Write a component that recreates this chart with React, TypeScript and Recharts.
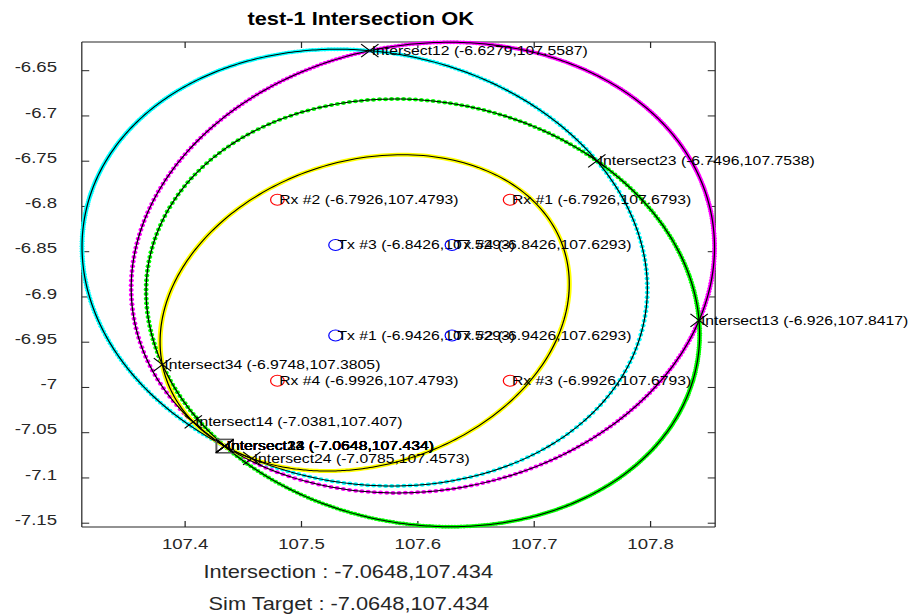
import React from 'react';
import { ScatterChart, Scatter, XAxis, YAxis } from 'recharts';

// ---------- data (lat = y, lon = x) ----------
const rxNames = ['Rx #1', 'Rx #2', 'Rx #3', 'Rx #4'];
const rxLat = [-6.7926, -6.7926, -6.9926, -6.9926];
const rxLon = [107.6793, 107.4793, 107.6793, 107.4793];

const txNames = ['Tx #1', 'Tx #2', 'Tx #3', 'Tx #4'];
const txLat = [-6.9426, -6.9426, -6.8426, -6.8426];
const txLon = [107.5293, 107.6293, 107.5293, 107.6293];

const targetLat = -7.0648;
const targetLon = 107.434;

const intersectNames = [
  'Intersect12', 'Intersect23', 'Intersect13', 'Intersect34', 'Intersect14', 'Intersect24',
  'Intersect12', 'Intersect13', 'Intersect14', 'Intersect23', 'Intersect24', 'Intersect34',
];
const intersectLat = [-6.6279, -6.7496, -6.926, -6.9748, -7.0381, -7.0785, -7.0648, -7.0648, -7.0648, -7.0648, -7.0648, -7.0648];
const intersectLon = [107.5587, 107.7538, 107.8417, 107.3805, 107.407, 107.4573, 107.434, 107.434, 107.434, 107.434, 107.434, 107.434];

const ellipseColors = ['#FF00FF', '#00FFFF', '#00FF00', '#FFFF00'];
const ellipseDotted = [true, true, true, false];

const xTicks = [107.4, 107.5, 107.6, 107.7, 107.8];
const yTicks = [-7.15, -7.1, -7.05, -7, -6.95, -6.9, -6.85, -6.8, -6.75, -6.7, -6.65];
const xDomain = [107.3112, 107.8555];
const yDomain = [-7.1542, -6.6183];

const titleText = 'test-1 Intersection OK';
const resultText = 'Intersection : -7.0648,107.434';
const simText = 'Sim Target : -7.0648,107.434';

// longitude is scaled by cos(latitude) when ranges are measured
const lonScale = 0.9927;
const samplesPerEllipse = 420;

// ---------- geometry: ellipse with foci Tx_i / Rx_i passing through the target ----------
type Pt = { x: number; y: number; label?: string };

function ellipsePoints(i: number): Pt[] {
  const fx = rxLon[i] * lonScale, fy = rxLat[i];
  const gx = txLon[i] * lonScale, gy = txLat[i];
  const tx = targetLon * lonScale, ty = targetLat;
  const sum = Math.hypot(tx - fx, ty - fy) + Math.hypot(tx - gx, ty - gy);
  const a = sum / 2;
  const c = Math.hypot(gx - fx, gy - fy) / 2;
  const e = c / a;
  const p = a * (1 - e * e);
  const phi = Math.atan2(gy - fy, gx - fx);
  const pts: Pt[] = [];
  for (let k = 0; k <= samplesPerEllipse; k++) {
    const th = (2 * Math.PI * k) / samplesPerEllipse;
    const r = p / (1 - e * Math.cos(th - phi));
    pts.push({ x: (fx + r * Math.cos(th)) / lonScale, y: fy + r * Math.sin(th) });
  }
  return pts;
}

const ellipses = [0, 1, 2, 3].map((i) => ellipsePoints(i));

const rxData: Pt[] = rxNames.map((n, i) => ({ x: rxLon[i], y: rxLat[i], label: `${n} (${rxLat[i]},${rxLon[i]})` }));
const txData: Pt[] = txNames.map((n, i) => ({ x: txLon[i], y: txLat[i], label: `${n} (${txLat[i]},${txLon[i]})` }));
const intersectData: Pt[] = intersectNames.map((n, i) => ({
  x: intersectLon[i], y: intersectLat[i], label: `${n} (${intersectLat[i]},${intersectLon[i]})`,
}));
const targetData: Pt[] = [{ x: targetLon, y: targetLat }];

// ---------- styling ----------
const FONT = '"Liberation Sans", Arial, Helvetica, sans-serif';
const AXIS_COLOR = '#262626';
const W = 735;
const H = 615;
const STRETCH = 911 / W;
const LABEL_SIZE = 12.7;

const XTick = (props: any) => (
  <text x={props.x} y={props.y} textAnchor="middle" fontSize={15} fontFamily={FONT} fill={AXIS_COLOR}>
    {String(props.payload.value)}
  </text>
);
const YTick = (props: any) => (
  <text x={props.x} y={props.y + 1.7} textAnchor="end" fontSize={15} fontFamily={FONT} fill={AXIS_COLOR}>
    {String(props.payload.value)}
  </text>
);
const NoTick = () => <g />;
const Empty = () => <g />;

const makeDot = (color: string) => (p: any) => <circle cx={p.cx} cy={p.cy} r={2} fill={color} />;

const makeCircleMarker = (color: string) => (p: any) => (
  <g>
    <circle cx={p.cx} cy={p.cy} r={5.5} fill="none" stroke={color} strokeWidth={1} />
    <text x={p.cx + 1.5} y={p.cy + 4.4} fontSize={LABEL_SIZE} fontFamily={FONT} fill="#000">
      {p.payload.label}
    </text>
  </g>
);

const CrossMarker = (p: any) => (
  <g>
    <path
      d={`M${p.cx - 7},${p.cy - 6.5}L${p.cx + 7},${p.cy + 6.5}M${p.cx - 7},${p.cy + 6.5}L${p.cx + 7},${p.cy - 6.5}`}
      stroke="#000"
      strokeWidth={1}
      fill="none"
    />
    <text x={p.cx + 1.5} y={p.cy + 4.4} fontSize={LABEL_SIZE} fontFamily={FONT} fill="#000">
      {p.payload.label}
    </text>
  </g>
);

const SquareMarker = (p: any) => (
  <rect x={p.cx - 6.7} y={p.cy - 6.7} width={13.4} height={13.4} fill="none" stroke="#5a5a5a" strokeWidth={1.6} />
);

export default function App() {
  return (
    <div
      style={{
        position: 'absolute',
        left: 0,
        top: 0,
        width: W,
        height: H,
        transform: `scaleX(${STRETCH})`,
        transformOrigin: '0 0',
        background: '#fff',
      }}
    >
      <div style={{ position: 'relative', width: W, height: H }}>
        <ScatterChart width={W} height={H} margin={{ top: 41, right: 157, bottom: 0, left: 0 }}>
          <XAxis
            xAxisId={0}
            dataKey="x"
            type="number"
            domain={xDomain}
            ticks={xTicks}
            interval={0}
            height={88}
            stroke={AXIS_COLOR}
            tickSize={-6}
            tickMargin={28}
            tick={XTick}
          />
          <XAxis
            xAxisId="top"
            orientation="top"
            dataKey="x"
            type="number"
            domain={xDomain}
            ticks={xTicks}
            interval={0}
            height={1}
            stroke={AXIS_COLOR}
            tickSize={-6}
            tick={NoTick}
          />
          <YAxis
            yAxisId={0}
            dataKey="y"
            type="number"
            domain={yDomain}
            ticks={yTicks}
            interval={0}
            width={66}
            stroke={AXIS_COLOR}
            tickSize={-6}
            tickMargin={26}
            tick={YTick}
          />
          <YAxis
            yAxisId="right"
            orientation="right"
            dataKey="y"
            type="number"
            domain={yDomain}
            ticks={yTicks}
            interval={0}
            width={1}
            stroke={AXIS_COLOR}
            tickSize={-6}
            tick={NoTick}
          />

          {/* anchors the box (top / right) axes */}
          <Scatter
            xAxisId="top"
            yAxisId="right"
            data={targetData}
            shape={Empty}
            isAnimationActive={false}
            legendType="none"
          />

          {ellipses.map((pts, i) =>
            ellipseDotted[i] ? (
              <Scatter
                key={`dots-${i}`}
                data={pts}
                shape={makeDot(ellipseColors[i])}
                isAnimationActive={false}
                legendType="none"
              />
            ) : (
              <Scatter
                key={`band-${i}`}
                data={pts}
                line={{ stroke: ellipseColors[i], strokeWidth: 4 }}
                lineJointType="linear"
                shape={Empty}
                isAnimationActive={false}
                legendType="none"
              />
            )
          )}
          {ellipses.map((pts, i) => (
            <Scatter
              key={`line-${i}`}
              data={pts}
              line={{ stroke: '#000', strokeWidth: 1 }}
              lineJointType="linear"
              shape={Empty}
              isAnimationActive={false}
              legendType="none"
            />
          ))}

          <Scatter data={targetData} shape={SquareMarker} isAnimationActive={false} legendType="none" />
          <Scatter data={rxData} shape={makeCircleMarker('#FF0000')} isAnimationActive={false} legendType="none" />
          <Scatter data={txData} shape={makeCircleMarker('#0000FF')} isAnimationActive={false} legendType="none" />
          <Scatter data={intersectData} shape={CrossMarker} isAnimationActive={false} legendType="none" />
        </ScatterChart>

        <svg width={W} height={H} style={{ position: 'absolute', left: 0, top: 0, pointerEvents: 'none' }}>
          <text x={291} y={25} textAnchor="middle" fontSize={17.6} fontWeight="bold" fontFamily={FONT} fill="#000">
            {titleText}
          </text>
          <text x={281} y={578.5} textAnchor="middle" fontSize={17.6} fontFamily={FONT} fill={AXIS_COLOR}>
            {resultText}
          </text>
          <text x={281.5} y={610} textAnchor="middle" fontSize={17.6} fontFamily={FONT} fill={AXIS_COLOR}>
            {simText}
          </text>
        </svg>
      </div>
    </div>
  );
}
